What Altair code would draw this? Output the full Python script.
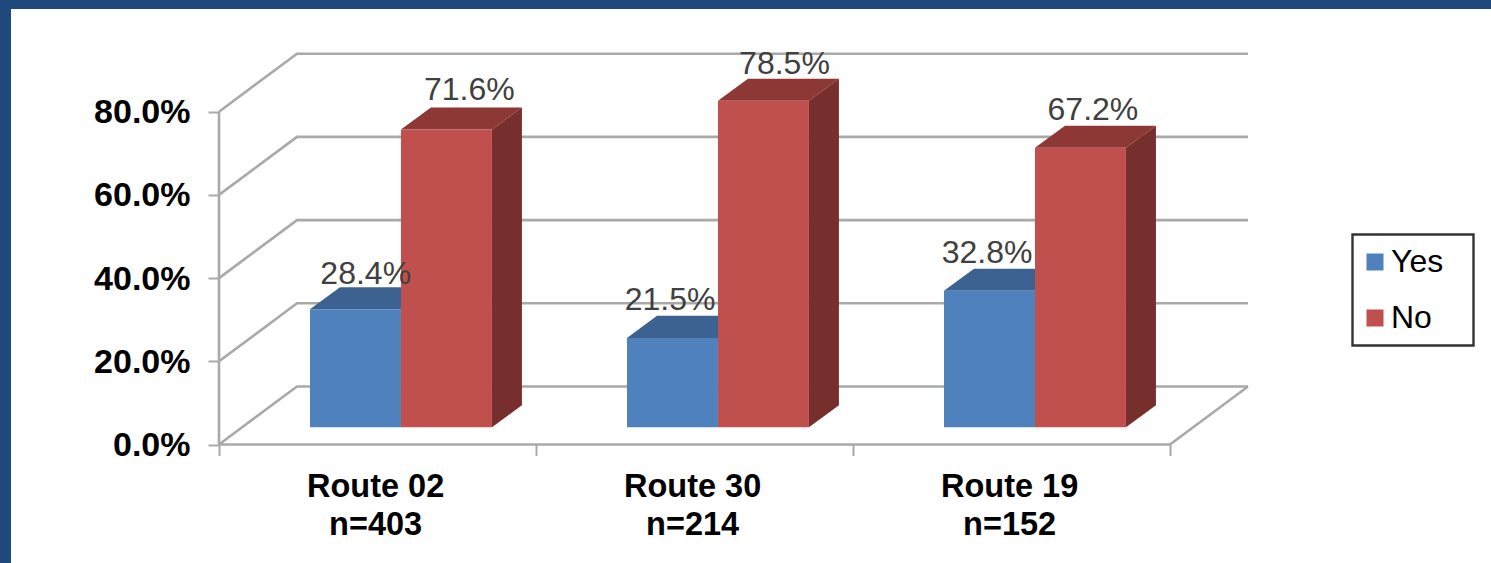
import altair as alt
import pandas as pd

# Survey answers per route, in percent
routes = ["Route 02", "Route 30", "Route 19"]
sample_sizes = ["n=403", "n=214", "n=152"]
answers = ["Yes", "No"]
yes_values = [28.4, 21.5, 32.8]
no_values = [71.6, 78.5, 67.2]
y_ticks = [0, 20, 40, 60, 80]
x_ticks = [0, 1, 2, 3]

FRONT = {"Yes": "#4f81bd", "No": "#c0504d"}
TOP = {"Yes": "#3c6291", "No": "#8e3835"}
SIDE = {"Yes": "#3a5f8b", "No": "#772f2d"}
GRID = "#a9a9a9"
FONT = "Liberation Sans"

# Oblique projection, expressed in axis units
WALL_DX, WALL_DY = 0.246, 13.94
BAR_DX, BAR_DY = 0.0946, 5.29
BAR_LIFT = 4.13
BAR_WIDTH = 0.287
# Hand-placed value labels: (x, y) nudge in axis units
label_nudge = {
    ("Route 02", "Yes"): (-0.015, -1.0), ("Route 02", "No"): (0.025, 0.0),
    ("Route 30", "Yes"): (-0.055, -0.25), ("Route 30", "No"): (0.019, -0.65),
    ("Route 19", "Yes"): (-0.055, -0.25), ("Route 19", "No"): (-0.008, -0.25),
}

fronts, tops, sides, labels, walls = [], [], [], [], []
for i, route in enumerate(routes):
    for j, (answer, value) in enumerate(zip(answers, (yes_values[i], no_values[i]))):
        x0 = i + BAR_WIDTH * (j + 1)
        x1 = x0 + BAR_WIDTH
        key = f"{route}-{answer}"
        fronts.append({"x": x0, "x2": x1, "y": BAR_LIFT, "y2": BAR_LIFT + value, "answer": answer})
        tops += [
            {"key": key, "y": BAR_LIFT + value, "x": x0, "x2": x1, "c": TOP[answer]},
            {"key": key, "y": BAR_LIFT + value + BAR_DY, "x": x0 + BAR_DX, "x2": x1 + BAR_DX, "c": TOP[answer]},
        ]
        sides += [
            {"key": key, "x": x1, "y": BAR_LIFT, "y2": BAR_LIFT + value, "c": SIDE[answer]},
            {"key": key, "x": x1 + BAR_DX, "y": BAR_LIFT + BAR_DY, "y2": BAR_LIFT + value + BAR_DY, "c": SIDE[answer]},
        ]
        nx, ny = label_nudge[(route, answer)]
        labels.append({
            "x": (x0 + x1) / 2 + BAR_DX / 2 + nx,
            "y": BAR_LIFT + value + BAR_DY + 4.1 + ny,
            "text": f"{value:.1f}%",
        })

# Side wall and back wall gridlines, plus the floor outline
for tick in y_ticks:
    walls += [
        {"key": f"g{tick}", "o": 0, "x": 0, "y": tick},
        {"key": f"g{tick}", "o": 1, "x": WALL_DX, "y": tick + WALL_DY},
        {"key": f"g{tick}", "o": 2, "x": 3 + WALL_DX, "y": tick + WALL_DY},
    ]
walls += [
    {"key": "left", "o": 0, "x": 0, "y": 0},
    {"key": "left", "o": 1, "x": 0, "y": 80},
    {"key": "floor", "o": 0, "x": 0, "y": 0},
    {"key": "floor", "o": 1, "x": 3, "y": 0},
    {"key": "floor", "o": 2, "x": 3 + WALL_DX, "y": WALL_DY},
]

x_scale = alt.Scale(domain=[0, 3.246], nice=False, zero=False)
y_scale = alt.Scale(domain=[0, 94.83], nice=False, zero=False)
x_enc = alt.X(
    "x:Q", scale=x_scale, title=None,
    axis=alt.Axis(values=x_ticks, labels=False, grid=False, domain=False,
                  ticks=True, tickSize=11, tickColor=GRID, tickWidth=2),
)
y_enc = alt.Y(
    "y:Q", scale=y_scale, title=None,
    axis=alt.Axis(values=y_ticks, grid=False, domain=False, ticks=True, tickSize=11,
                  tickColor=GRID, tickWidth=2, labelFont=FONT, labelFontSize=34,
                  labelFontWeight="bold", labelColor="#000000", labelPadding=18,
                  labelOffset=1,
                  labelExpr="format(datum.value, '.1f') + '%'"),
)

wall_layer = alt.Chart(pd.DataFrame(walls)).mark_line(color=GRID, strokeWidth=2.6).encode(
    x=x_enc, y=y_enc, detail="key:N", order="o:Q"
)

top_layer = alt.Chart(pd.DataFrame(tops)).mark_area(orient="horizontal").encode(
    y=y_enc, x=x_enc, x2="x2:Q", detail="key:N", color=alt.Color("c:N", scale=None)
)

side_layer = alt.Chart(pd.DataFrame(sides)).mark_area(orient="vertical").encode(
    x=x_enc, y=y_enc, y2="y2:Q", detail="key:N", color=alt.Color("c:N", scale=None)
)

# Legend frame sits under the legend itself, which carries no box of its own
legend_frame = alt.Chart(pd.DataFrame({"k": [0]})).mark_rect(
    fill="#ffffff", stroke="#333333", strokeWidth=2.4
).encode(x=alt.value(1133.5), x2=alt.value(1254.5), y=alt.value(184.5), y2=alt.value(295.5))

front_layer = alt.Chart(pd.DataFrame(fronts)).mark_rect().encode(
    x=x_enc, x2="x2:Q", y=y_enc, y2="y2:Q",
    color=alt.Color(
        "answer:N",
        scale=alt.Scale(domain=answers, range=[FRONT[a] for a in answers]),
        title=None,
        legend=alt.Legend(
            orient="none", legendX=1140, legendY=196, padding=0,
            symbolType="square", symbolSize=289, symbolStrokeWidth=0,
            labelFont=FONT, labelFontSize=32, labelColor="#000000", labelOffset=0,
            rowPadding=24, labelLimit=200,
        ),
    ),
)

label_layer = alt.Chart(pd.DataFrame(labels)).mark_text(
    font=FONT, fontSize=32, color="#404040", baseline="middle", align="center"
).encode(x=x_enc, y=y_enc, text="text:N")

category_layer = alt.Chart(pd.DataFrame({
    "x": [i + 0.494 for i in range(len(routes))],
    "y": [0] * len(routes),
    "text": [f"{r}\n{n}" for r, n in zip(routes, sample_sizes)],
})).mark_text(
    font=FONT, fontSize=32.5, fontWeight="bold", color="#000000", baseline="top",
    align="center", lineBreak="\n", lineHeight=38, dy=26
).encode(x=x_enc, y=y_enc, text="text:N")

# Dark slide frame along the top and left edges
frame_left = alt.Chart(pd.DataFrame({"k": [0]})).mark_rect(color="#1f497d").encode(
    x=alt.value(-219), x2=alt.value(-208), y=alt.value(-50), y2=alt.value(513)
)
frame_top = alt.Chart(pd.DataFrame({"k": [0]})).mark_rect(color="#1f497d").encode(
    x=alt.value(-219), x2=alt.value(1272), y=alt.value(-50), y2=alt.value(-41)
)

chart = alt.layer(
    frame_left, frame_top, legend_frame, wall_layer, top_layer, side_layer, front_layer,
    label_layer, category_layer,
).resolve_scale(color="independent").properties(
    width=1029, height=394.5, background="#ffffff",
    padding={"left": 219, "top": 50, "right": 243, "bottom": 118.5},
    autosize=alt.AutoSizeParams(type="none"),
).configure_view(stroke=None)

chart.save("out.html", embed_options={"renderer": "svg", "actions": False})
